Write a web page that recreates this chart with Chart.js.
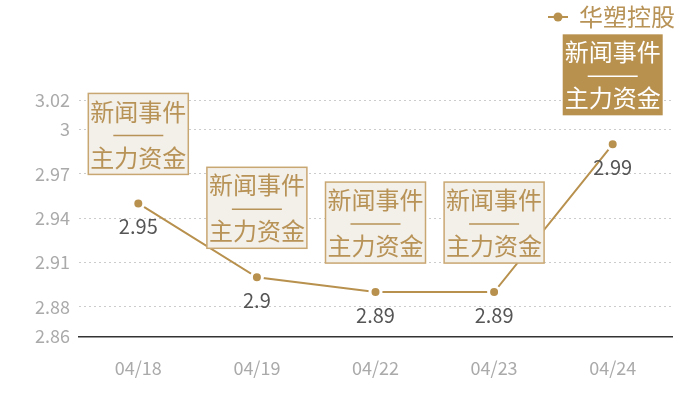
<!DOCTYPE html>
<html>
<head>
<meta charset="utf-8">
<script src="https://cdn.jsdelivr.net/npm/chart.js@4"></script>
<style>
  html, body { margin: 0; padding: 0; background: #fff; }
  #wrap { width: 700px; height: 400px; }
</style>
</head>
<body>
<div id="wrap"><canvas id="grafica"></canvas></div>
<script>
// datos
const fechas = ['04/18', '04/19', '04/22', '04/23', '04/24'];
const precios = [2.95, 2.9, 2.89, 2.89, 2.99];
const ticksY = [2.86, 2.88, 2.91, 2.94, 2.97, 3, 3.02];
const nombreSerie = '华塑控股';
const textoCaja = ['新闻事件', '主力资金'];
const cajaResaltada = [false, false, false, false, true];

const FUENTE = '"Noto Sans CJK SC", "Noto Sans", sans-serif';
const DORADO = '#b8914f';

/* --- plugin: etiquetas, cajas y leyenda ---------------------------------- */
const extras = {
  id: 'extras',
  afterDatasetsDraw(chart) {
    const ctx = chart.ctx;
    const meta = chart.getDatasetMeta(0);
    ctx.save();
    ctx.textAlign = 'center';
    ctx.textBaseline = 'middle';

    meta.data.forEach((p, i) => {
      // valor debajo del punto
      ctx.fillStyle = '#555';
      ctx.font = '20px ' + FUENTE;
      ctx.fillText(String(precios[i]), p.x, p.y + 23);

      // caja encima del punto
      const w = 100, h = 81;
      const x = p.x - w / 2, y = p.y - 29 - h;
      const resaltada = cajaResaltada[i];
      if (resaltada) {
        ctx.fillStyle = DORADO;
        ctx.fillRect(x, y, w, h);
      } else {
        ctx.fillStyle = '#f3efe9';
        ctx.fillRect(x, y, w, h);
        ctx.strokeStyle = '#c9a772';
        ctx.lineWidth = 1.5;
        ctx.strokeRect(x, y, w, h);
      }
      const colorTexto = resaltada ? '#fff' : '#b89357';
      ctx.fillStyle = colorTexto;
      ctx.font = '24px ' + FUENTE;
      ctx.fillText(textoCaja[0], p.x, y + 18);
      ctx.fillText(textoCaja[1], p.x, y + 64);
      // raya separadora
      ctx.strokeStyle = colorTexto;
      ctx.lineWidth = 1.5;
      ctx.beginPath();
      ctx.moveTo(p.x - 25, y + 42);
      ctx.lineTo(p.x + 25, y + 42);
      ctx.stroke();
    });

    // leyenda arriba a la derecha
    const ly = 17;
    ctx.strokeStyle = DORADO;
    ctx.lineWidth = 2;
    ctx.beginPath();
    ctx.moveTo(548, ly);
    ctx.lineTo(568, ly);
    ctx.stroke();
    ctx.fillStyle = DORADO;
    ctx.beginPath();
    ctx.arc(558, ly, 4.5, 0, Math.PI * 2);
    ctx.fill();
    ctx.font = '24px ' + FUENTE;
    ctx.textAlign = 'left';
    ctx.fillStyle = '#b89357';
    ctx.fillText(nombreSerie, 579, ly);
    ctx.restore();
  },
};

new Chart(document.getElementById('grafica'), {
  type: 'line',
  data: {
    labels: fechas,
    datasets: [{
      label: nombreSerie,
      data: precios,
      borderColor: DORADO,
      borderWidth: 2,
      backgroundColor: DORADO,
      pointBackgroundColor: DORADO,
      pointBorderColor: '#fff',
      pointBorderWidth: 3,
      pointRadius: 5.5,
      tension: 0,
    }],
  },
  options: {
    responsive: true, maintainAspectRatio: false, animation: false,
    layout: { padding: { top: 100, right: 28, bottom: 0, left: 0 } },
    plugins: { legend: { display: false }, tooltip: { enabled: false } },
    scales: {
      x: {
        offset: true,
        grid: { display: false, drawTicks: false },
        border: { color: '#333', width: 1.5 },
        ticks: { color: '#aaa', font: { family: FUENTE, size: 18 }, padding: 21 },
      },
      y: {
        min: 2.86, max: 3.02,
        afterBuildTicks: (s) => { s.ticks = ticksY.map(v => ({ value: v })); },
        afterFit: (s) => { s.width = 79; },
        grid: { color: '#ccc', drawTicks: false },
        border: { display: false, dash: [2, 3] },
        ticks: {
          color: '#aaa', font: { family: FUENTE, size: 18 }, padding: 9,
          callback: (v) => String(v),
        },
      },
    },
  },
  plugins: [extras],
});
</script>
</body>
</html>
